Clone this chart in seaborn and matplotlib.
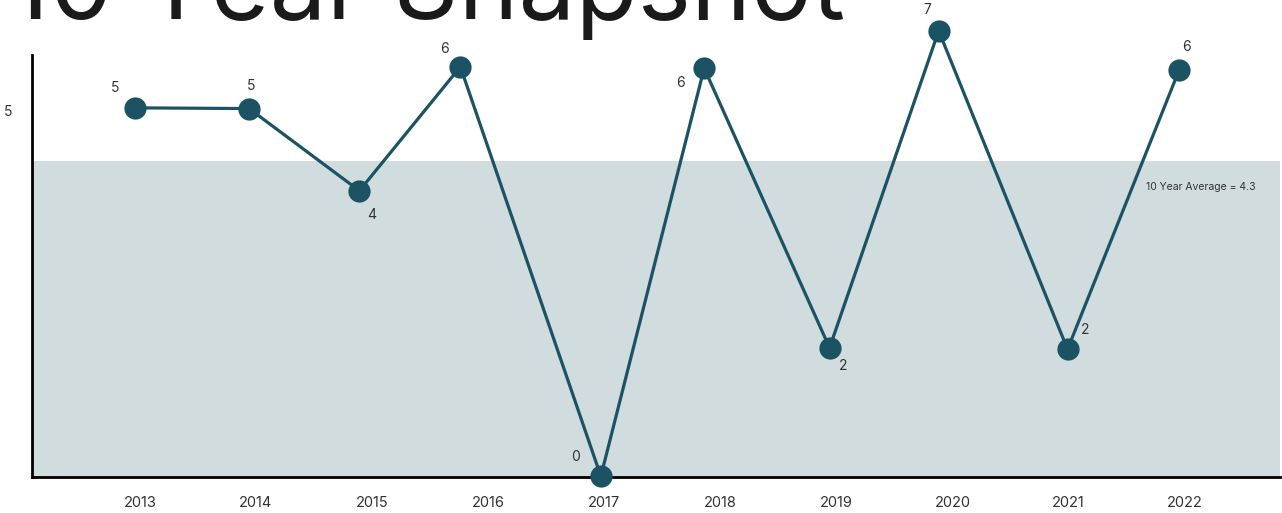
import matplotlib
matplotlib.use("Agg")
import matplotlib.pyplot as plt
import seaborn as sns
import pandas as pd

# ---- Data ----
years = [2013, 2014, 2015, 2016, 2017, 2018, 2019, 2020, 2021, 2022]
counts = [5, 5, 4, 6, 0, 6, 2, 7, 2, 6]
# where each dot actually sits in the picture (year units / value units)
point_year = [2012.96, 2013.94, 2014.89, 2015.76, 2016.97, 2017.86, 2018.94, 2019.88, 2020.99, 2021.95]
point_height = [5.03, 5.02, 3.90, 5.59, 0.01, 5.57, 1.76, 6.08, 1.74, 5.54]
average = 4.3

# label nudges in pixels (dx, dy)
label_offsets = [(-20, 20), (2, 23), (12, -24), (-16, 18), (-25, 19),
                 (-24, -15), (14, -18), (-11, 21), (18, 19), (8, 23)]

LINE = "#1b5364"
BAND = "#d0dcde"
TEXT = "#333333"

sns.set_style("white")
plt.rcParams['font.family'] = ['Inter', 'DejaVu Sans']

fig = plt.figure(figsize=(12.82, 5.13), dpi=100)
# axes box: left spine at x=32px, bottom at y=477px, top at y=55px
ax = fig.add_axes([32 / 1282, 1 - 477 / 513, 1248 / 1282, 422 / 513])

ax.axhspan(0, average, color=BAND, zorder=0, lw=0)

df = pd.DataFrame({"year": point_year, "value": point_height})
sns.lineplot(data=df, x="year", y="value", ax=ax, color=LINE, linewidth=2.3,
             marker="o", markersize=16, markeredgewidth=0, sort=False,
             clip_on=False, zorder=3)

for xv, yv, c, (dx, dy) in zip(point_year, point_height, counts, label_offsets):
    ax.annotate(str(c), (xv, yv), xytext=(dx, dy), textcoords="offset pixels",
                ha="center", va="center", fontsize=10, color=TEXT,
                annotation_clip=False)

ax.annotate("10 Year Average = 4.3", (0.893, average),
            xycoords=("axes fraction", "data"), xytext=(0, -26),
            textcoords="offset pixels", ha="left", va="center",
            fontsize=7.5, color=TEXT)

ax.set_xlim(2012.07, 2022.82)
ax.set_ylim(0, 5.75)
ax.set_xticks(years)
ax.set_xticklabels([str(y) for y in years])
ax.set_yticks([5])
ax.set_yticklabels(["5"])
ax.tick_params(axis="x", length=0, pad=14, labelsize=10.5, labelcolor=TEXT)
ax.tick_params(axis="y", length=0, pad=14, labelsize=10, labelcolor=TEXT)
ax.set_xlabel("")
ax.set_ylabel("")

for side in ["top", "right"]:
    ax.spines[side].set_visible(False)
for side in ["left", "bottom"]:
    ax.spines[side].set_color("black")
    ax.spines[side].set_linewidth(2)
    ax.spines[side].set_zorder(2)

fig.text(0.0065, 1 - 19 / 513, "10 Year Snapshot", fontsize=73,
         color="#1a1a1a", ha="left", va="baseline")

fig.savefig("out.png", dpi=100)
